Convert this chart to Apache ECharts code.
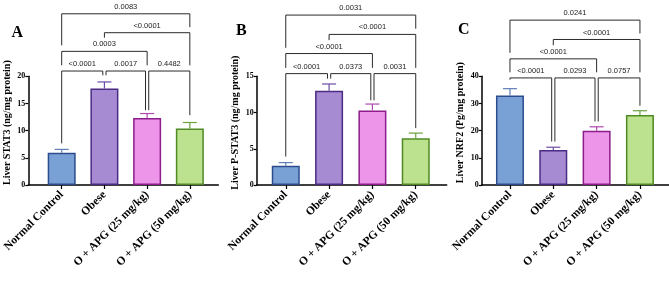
<!DOCTYPE html>
<html>
<head>
<meta charset="utf-8">
<script src="https://cdn.jsdelivr.net/npm/echarts@6/dist/echarts.min.js"></script>
<style>html,body{margin:0;padding:0;background:#fff}#c{width:669px;height:300px}</style>
</head>
<body>
<div id="c"></div>
<script>
// ---- data ----
const categories = ['Normal Control', 'Obese', 'O + APG (25 mg/kg)', 'O + APG (50 mg/kg)'];

const stat3Mean = [5.93, 17.74, 12.35, 10.4];
const stat3Sem = [0.62, 1.22, 0.80, 1.10];
const pstat3Mean = [2.67, 13.02, 10.29, 6.46];
const pstat3Sem = [0.42, 0.92, 0.88, 0.70];
const nrf2Mean = [32.98, 12.92, 19.94, 25.73];
const nrf2Sem = [2.47, 0.98, 1.48, 1.60];

const stat3Ticks = [0, 20, 5];
const pstat3Ticks = [0, 15, 5];
const nrf2Ticks = [0, 40, 10];

// brackets: [from, to, level, leftLegEnd, rightLegEnd, p-value label]
const stat3Brackets = [
  [0, 1, 20.97, 7.65, 20.18, '<0.0001'],
  [1, 2, 20.97, 20.18, 13.76, '0.0017'],
  [2, 3, 20.97, 13.76, 12.84, '0.4482'],
  [0, 2, 24.59, 22.02, 22.02, '0.0003'],
  [1, 3, 28.02, 27.1, 22.02, '<0.0001'],
  [0, 3, 31.5, 25.69, 29.05, '0.0083']
];
const pstat3Brackets = [
  [0, 1, 15.37, 3.92, 14.68, '<0.0001'],
  [1, 2, 15.37, 14.68, 11.68, '0.0373'],
  [2, 3, 15.37, 11.68, 7.85, '0.0031'],
  [0, 2, 18.14, 16.16, 16.16, '<0.0001'],
  [1, 3, 20.78, 19.99, 16.16, '<0.0001'],
  [0, 3, 23.45, 18.93, 21.57, '0.0031']
];
const nrf2Brackets = [
  [0, 1, 39.4, 38.77, 15.99, '<0.0001'],
  [1, 2, 39.4, 15.99, 23.37, '0.0293'],
  [2, 3, 39.4, 23.37, 29.17, '0.0757'],
  [0, 2, 46.42, 41.47, 41.47, '<0.0001'],
  [1, 3, 53.55, 51.44, 41.47, '<0.0001'],
  [0, 3, 60.67, 48.63, 55.76, '0.0241']
];

const panelLetters = ['A', 'B', 'C'];
const yTitles = ['Liver STAT3 (ng/mg protein)', 'Liver P-STAT3 (ng/mg protein)', 'Liver NRF2 (Pg/mg protein)'];

// ---- styles ----
const fills = ['#7aa1d6', '#a68ad2', '#ec95e9', '#bde28f'];
const borders = ['#2c4c8e', '#4b2b85', '#8c1d8a', '#4f8a23'];
const errColors = ['#5f7fb8', '#6b4ca6', '#b048ac', '#6aa23e'];
const serif = '"Liberation Serif", "Times New Roman", serif';
const sans = '"Liberation Sans", Arial, sans-serif';

const panels = [
  {mean: stat3Mean, sem: stat3Sem, ticks: stat3Ticks, brackets: stat3Brackets, frameLeft: 28.3, barLeft: 37.9, letterX: 18.5, letterY: 25},
  {mean: pstat3Mean, sem: pstat3Sem, ticks: pstat3Ticks, brackets: pstat3Brackets, frameLeft: 256.7, barLeft: 264.1, letterX: 243, letterY: 23},
  {mean: nrf2Mean, sem: nrf2Sem, ticks: nrf2Ticks, brackets: nrf2Brackets, frameLeft: 481.7, barLeft: 488.3, letterX: 465, letterY: 22}
];

const TOP = 76.3, H = 108.7;
const grid = [], xAxis = [], yAxis = [], series = [], title = [];

panels.forEach((p, k) => {
  const gFrame = grid.length;
  grid.push({left: p.frameLeft, top: TOP, width: 190, height: H});
  grid.push({left: p.barLeft, top: TOP, width: 173.3, height: H});
  const gBar = gFrame + 1;

  // frame axes
  xAxis.push({gridIndex: gFrame, type: 'value', min: 0, max: 1,
    axisLine: {show: true, onZero: false, lineStyle: {color: '#000', width: 1.5}},
    axisTick: {show: false}, axisLabel: {show: false}, splitLine: {show: false}});
  yAxis.push({gridIndex: gFrame, type: 'value', min: p.ticks[0], max: p.ticks[1], interval: p.ticks[2],
    axisLine: {show: true, lineStyle: {color: '#000', width: 1.5}},
    axisTick: {show: true, length: 3, lineStyle: {color: '#000', width: 1.2}},
    axisLabel: {fontFamily: serif, fontWeight: 'bold', fontSize: 8, color: '#000', margin: 3},
    splitLine: {show: false},
    name: yTitles[k], nameLocation: 'middle', nameGap: 16,
    nameTextStyle: {fontFamily: serif, fontWeight: 'bold', fontSize: 10, color: '#000', padding: [0, 0, 0, 16]}});
  // bar axes
  const xi = xAxis.length;
  xAxis.push({gridIndex: gBar, type: 'category', data: categories,
    axisLine: {show: false},
    axisTick: {show: true, alignWithLabel: true, length: 4, lineStyle: {color: '#000', width: 1.2}},
    axisLabel: {interval: 0, rotate: 45, margin: 8, fontFamily: serif, fontWeight: 'bold', fontSize: 11.5, color: '#000'}});
  const yi = yAxis.length;
  yAxis.push({gridIndex: gBar, type: 'value', min: p.ticks[0], max: p.ticks[1], show: false});

  series.push({type: 'bar', xAxisIndex: xi, yAxisIndex: yi, barWidth: 28,
    data: p.mean.map((v, i) => ({value: v, itemStyle: {color: fills[i], borderColor: borders[i], borderWidth: 1.5}})),
    silent: true, animation: false});

  series.push({type: 'custom', xAxisIndex: xi, yAxisIndex: yi, animation: false, silent: true, clip: false, z: 3,
    data: p.mean.map((v, i) => [i, v, v + p.sem[i]]),
    renderItem: function (params, api) {
      const i = api.value(0);
      const a = api.coord([i, api.value(1)]);
      const b = api.coord([i, api.value(2)]);
      const st = {stroke: errColors[i], lineWidth: 1.2, fill: null};
      return {type: 'group', children: [
        {type: 'line', shape: {x1: a[0], y1: a[1], x2: b[0], y2: b[1]}, style: st},
        {type: 'line', shape: {x1: b[0] - 7, y1: b[1], x2: b[0] + 7, y2: b[1]}, style: st}
      ]};
    }});

  const br = p.brackets;
  series.push({type: 'custom', xAxisIndex: xi, yAxisIndex: yi, animation: false, silent: true, clip: false, z: 4,
    data: br.map(b => [b[0], b[1], b[2], b[3], b[4]]),
    renderItem: function (params, api) {
      const d = br[params.dataIndex];
      const i1 = d[0], i2 = d[1], lvl = d[2];
      // nudge legs apart where two same-level brackets meet on one bar
      const s1 = br.some(o => o !== d && o[2] === lvl && o[1] === i1) ? 1.6 : 0;
      const s2 = br.some(o => o !== d && o[2] === lvl && o[0] === i2) ? -1.6 : 0;
      const pL = api.coord([i1, lvl]), pR = api.coord([i2, lvl]);
      const bL = api.coord([i1, d[3]]), bR = api.coord([i2, d[4]]);
      const x1 = pL[0] + s1, x2 = pR[0] + s2;
      return {type: 'group', children: [
        {type: 'polyline', shape: {points: [[x1, bL[1]], [x1, pL[1]], [x2, pR[1]], [x2, bR[1]]]},
          style: {stroke: '#2a2a2a', lineWidth: 1, fill: null}},
        {type: 'text', x: (x1 + x2) / 2, y: pL[1] - 3,
          style: {text: d[5], fill: '#222', font: '7.5px ' + sans, textAlign: 'center', textVerticalAlign: 'bottom'}}
      ]};
    }});

  title.push({text: panelLetters[k], left: p.letterX - 7, top: p.letterY,
    textStyle: {fontFamily: serif, fontWeight: 'bold', fontSize: 16, color: '#000'}, padding: 0});
});

const chart = echarts.init(document.getElementById('c'), null, {renderer: 'canvas'});
chart.setOption({animation: false, title, grid, xAxis, yAxis, series});
</script>
</body>
</html>
